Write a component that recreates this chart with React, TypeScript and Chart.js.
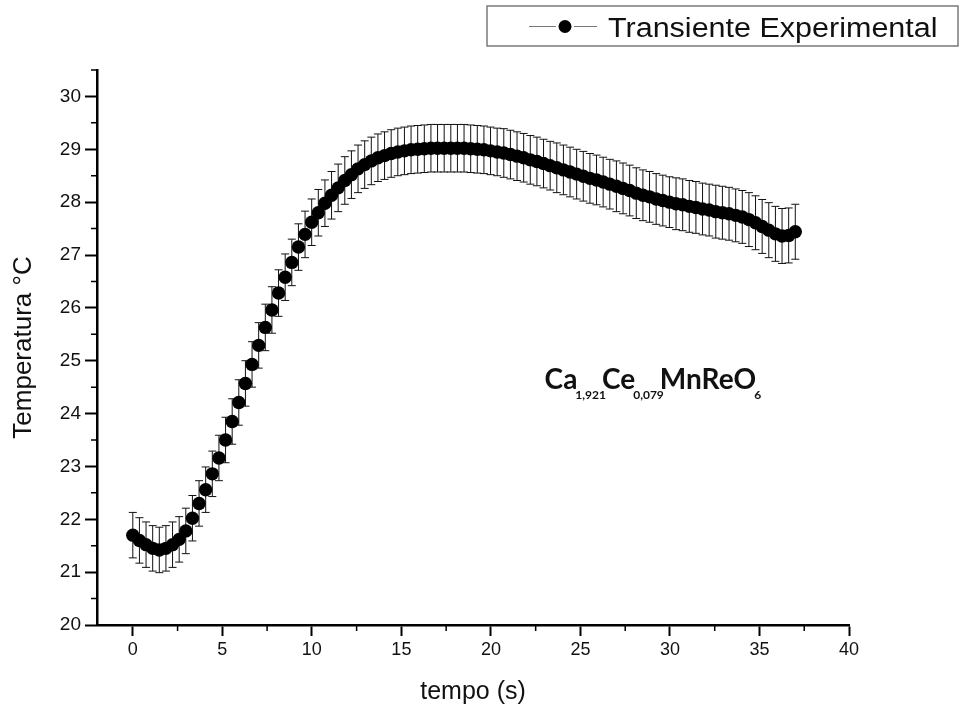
import React, { useEffect, useRef } from "react";
import { Chart, registerables } from "chart.js";

Chart.register(...registerables);

// ---- data ----
const TIME_S = [
  0, 0.37, 0.74, 1.11, 1.48, 1.85, 2.22, 2.59, 2.96, 3.33,
  3.7, 4.07, 4.44, 4.81, 5.18, 5.55, 5.92, 6.29, 6.66, 7.03,
  7.4, 7.77, 8.14, 8.51, 8.88, 9.25, 9.62, 9.99, 10.36, 10.73,
  11.1, 11.47, 11.84, 12.21, 12.58, 12.95, 13.32, 13.69, 14.06, 14.43,
  14.8, 15.17, 15.54, 15.91, 16.28, 16.65, 17.02, 17.39, 17.76, 18.13,
  18.5, 18.87, 19.24, 19.61, 19.98, 20.35, 20.72, 21.09, 21.46, 21.83,
  22.2, 22.57, 22.94, 23.31, 23.68, 24.05, 24.42, 24.79, 25.16, 25.53,
  25.9, 26.27, 26.64, 27.01, 27.38, 27.75, 28.12, 28.49, 28.86, 29.23,
  29.6, 29.97, 30.34, 30.71, 31.08, 31.45, 31.82, 32.19, 32.56, 32.93,
  33.3, 33.67, 34.04, 34.41, 34.78, 35.15, 35.52, 35.89, 36.26, 36.63,
  37.0,
];

const TEMPERATURE_C = [
  21.7, 21.6, 21.52, 21.45, 21.42, 21.45, 21.52, 21.62, 21.78, 22.02,
  22.3, 22.56, 22.86, 23.16, 23.5, 23.85, 24.21, 24.57, 24.93, 25.29,
  25.63, 25.96, 26.28, 26.58, 26.86, 27.15, 27.39, 27.62, 27.8, 27.98,
  28.13, 28.27, 28.41, 28.52, 28.63, 28.71, 28.78, 28.84, 28.88, 28.92,
  28.95, 28.97, 28.99, 29.0, 29.01, 29.02, 29.02, 29.02, 29.02, 29.02,
  29.02, 29.01, 29.0, 28.99, 28.97, 28.95, 28.93, 28.9, 28.87, 28.84,
  28.8, 28.77, 28.73, 28.69, 28.65, 28.61, 28.57, 28.53, 28.49, 28.45,
  28.42, 28.38, 28.34, 28.3, 28.26, 28.22, 28.17, 28.13, 28.1, 28.06,
  28.03, 28.0, 27.97, 27.95, 27.92, 27.9, 27.87, 27.85, 27.82, 27.8,
  27.78, 27.75, 27.72, 27.67, 27.61, 27.54, 27.47, 27.4, 27.36, 27.37,
  27.44,
];

const ERROR_C = [
  0.43, 0.43, 0.43, 0.43, 0.43, 0.43, 0.43, 0.43, 0.43, 0.43,
  0.43, 0.43, 0.43, 0.43, 0.43, 0.43, 0.43, 0.43, 0.43, 0.43,
  0.44, 0.44, 0.44, 0.44, 0.44, 0.44, 0.44, 0.44, 0.44, 0.44,
  0.45, 0.45, 0.45, 0.45, 0.45, 0.45, 0.45, 0.45, 0.45, 0.45,
  0.45, 0.45, 0.45, 0.45, 0.45, 0.45, 0.45, 0.45, 0.45, 0.45,
  0.45, 0.45, 0.45, 0.45, 0.45, 0.45, 0.46, 0.46, 0.46, 0.46,
  0.46, 0.46, 0.46, 0.46, 0.47, 0.47, 0.47, 0.47, 0.47, 0.47,
  0.47, 0.47, 0.47, 0.48, 0.48, 0.48, 0.48, 0.48, 0.48, 0.48,
  0.48, 0.48, 0.49, 0.49, 0.49, 0.49, 0.49, 0.49, 0.5, 0.5,
  0.5, 0.5, 0.5, 0.51, 0.51, 0.51, 0.52, 0.52, 0.52, 0.52,
  0.52,
];

const X_TICKS = [0, 5, 10, 15, 20, 25, 30, 35, 40];
const X_MINOR = [2.5, 7.5, 12.5, 17.5, 22.5, 27.5, 32.5, 37.5];
const Y_TICKS = [20, 21, 22, 23, 24, 25, 26, 27, 28, 29, 30];
const Y_MINOR = [20.5, 21.5, 22.5, 23.5, 24.5, 25.5, 26.5, 27.5, 28.5, 29.5, 30.5];

const SERIES_LABEL = "Transiente Experimental";
const X_TITLE = "tempo (s)";
const Y_TITLE = "Temperatura °C";
const FORMULA_PARTS: [string, boolean][] = [
  ["Ca", false],
  ["1,921", true],
  ["Ce", false],
  ["0,079", true],
  ["MnReO", false],
  ["6", true],
];
const FORMULA_AT = { x: 23.0, y: 24.46 };

const FONT = "'Liberation Sans', Arial, sans-serif";

const extrasPlugin = {
  id: "extras",
  beforeDatasetsDraw(chart: any) {
    const { ctx, scales } = chart;
    const xs = scales.x;
    const ys = scales.y;
    ctx.save();
    ctx.strokeStyle = "#111";
    ctx.lineWidth = 1;
    for (let i = 0; i < TIME_S.length; i++) {
      const px = xs.getPixelForValue(TIME_S[i]);
      const top = ys.getPixelForValue(TEMPERATURE_C[i] + ERROR_C[i]);
      const bot = ys.getPixelForValue(TEMPERATURE_C[i] - ERROR_C[i]);
      ctx.beginPath();
      ctx.moveTo(px, top);
      ctx.lineTo(px, bot);
      ctx.moveTo(px - 4, top);
      ctx.lineTo(px + 4, top);
      ctx.moveTo(px - 4, bot);
      ctx.lineTo(px + 4, bot);
      ctx.stroke();
    }
    ctx.restore();
  },
  afterDraw(chart: any) {
    const { ctx, scales, chartArea } = chart;
    const xs = scales.x;
    const ys = scales.y;
    ctx.save();
    // minor ticks
    ctx.strokeStyle = "#000";
    ctx.lineWidth = 1.5;
    ctx.beginPath();
    for (const v of X_MINOR) {
      const px = xs.getPixelForValue(v);
      ctx.moveTo(px, chartArea.bottom);
      ctx.lineTo(px, chartArea.bottom + 6);
    }
    for (const v of Y_MINOR) {
      const py = ys.getPixelForValue(v);
      ctx.moveTo(chartArea.left, py);
      ctx.lineTo(chartArea.left - 6, py);
    }
    ctx.stroke();

    // legend
    ctx.strokeStyle = "#7a7a7a";
    ctx.lineWidth = 1.5;
    ctx.strokeRect(487, 6, 471, 40);
    ctx.strokeStyle = "#777";
    ctx.lineWidth = 1;
    ctx.beginPath();
    ctx.moveTo(529, 26.5);
    ctx.lineTo(556, 26.5);
    ctx.moveTo(574, 26.5);
    ctx.lineTo(597, 26.5);
    ctx.stroke();
    ctx.fillStyle = "#000";
    ctx.beginPath();
    ctx.arc(565, 26.5, 6.5, 0, Math.PI * 2);
    ctx.fill();
    ctx.fillStyle = "#111";
    ctx.font = `27px ${FONT}`;
    ctx.textBaseline = "alphabetic";
    ctx.textAlign = "left";
    ctx.save();
    ctx.translate(608, 37);
    ctx.scale(1.13, 1);
    ctx.fillText(SERIES_LABEL, 0, 0);
    ctx.restore();

    // formula annotation
    let fx = xs.getPixelForValue(FORMULA_AT.x);
    const fy = ys.getPixelForValue(FORMULA_AT.y);
    for (const [txt, sub] of FORMULA_PARTS) {
      if (sub) {
        ctx.font = `bold 12px Lato, ${FONT}`;
        ctx.fillText(txt, fx - 1, fy + 10);
        fx += ctx.measureText(txt).width - 5;
      } else {
        ctx.font = `bold 28px Lato, ${FONT}`;
        ctx.fillText(txt, fx, fy);
        fx += ctx.measureText(txt).width - 1;
      }
    }
    ctx.restore();
  },
};

export default function App() {
  const ref = useRef<HTMLCanvasElement | null>(null);

  useEffect(() => {
    if (!ref.current) return;
    const chart = new Chart(ref.current, {
      type: "scatter",
      data: {
        datasets: [
          {
            label: SERIES_LABEL,
            data: TIME_S.map((t, i) => ({ x: t, y: TEMPERATURE_C[i] })),
            showLine: false,
            pointRadius: 6.7,
            pointBackgroundColor: "#000",
            pointBorderColor: "#000",
            pointBorderWidth: 0,
          },
        ],
      },
      options: {
        responsive: true,
        maintainAspectRatio: false,
        animation: false,
        layout: { padding: { top: 70, right: 115, left: 0, bottom: 0 } },
        plugins: {
          legend: { display: false },
          tooltip: { enabled: false },
        },
        scales: {
          x: {
            type: "linear",
            min: -2,
            max: 40,
            afterBuildTicks: (a: any) => {
              a.ticks = X_TICKS.map((v) => ({ value: v }));
            },
            afterFit: (s: any) => {
              s.height = 88;
            },
            border: { display: true, color: "#000", width: 2.5 },
            grid: {
              display: true,
              drawOnChartArea: false,
              drawTicks: true,
              tickLength: 11,
              tickWidth: 2,
              tickColor: "#000",
            },
            ticks: {
              font: { family: FONT, size: 18 },
              color: "#111",
              padding: 3,
              maxRotation: 0,
              autoSkip: false,
            },
            title: {
              display: true,
              text: X_TITLE,
              font: { family: FONT, size: 25 },
              color: "#111",
              padding: { top: 0, bottom: 6 },
            },
          },
          y: {
            type: "linear",
            min: 20,
            max: 30.5,
            afterBuildTicks: (a: any) => {
              a.ticks = Y_TICKS.map((v) => ({ value: v }));
            },
            afterFit: (s: any) => {
              s.width = 97;
            },
            border: { display: true, color: "#000", width: 2.5 },
            grid: {
              display: true,
              drawOnChartArea: false,
              drawTicks: true,
              tickLength: 12,
              tickWidth: 2,
              tickColor: "#000",
            },
            ticks: {
              font: { family: FONT, size: 19 },
              color: "#111",
              padding: 4,
              autoSkip: false,
            },
            title: {
              display: true,
              text: Y_TITLE,
              font: { family: FONT, size: 26 },
              color: "#111",
              padding: { top: 8, bottom: 0 },
            },
          },
        },
      },
      plugins: [extrasPlugin],
    });
    return () => chart.destroy();
  }, []);

  return (
    <div style={{ position: "fixed", left: 0, top: 0, width: 964, height: 713, background: "#fff" }}>
      <canvas ref={ref} />
    </div>
  );
}
